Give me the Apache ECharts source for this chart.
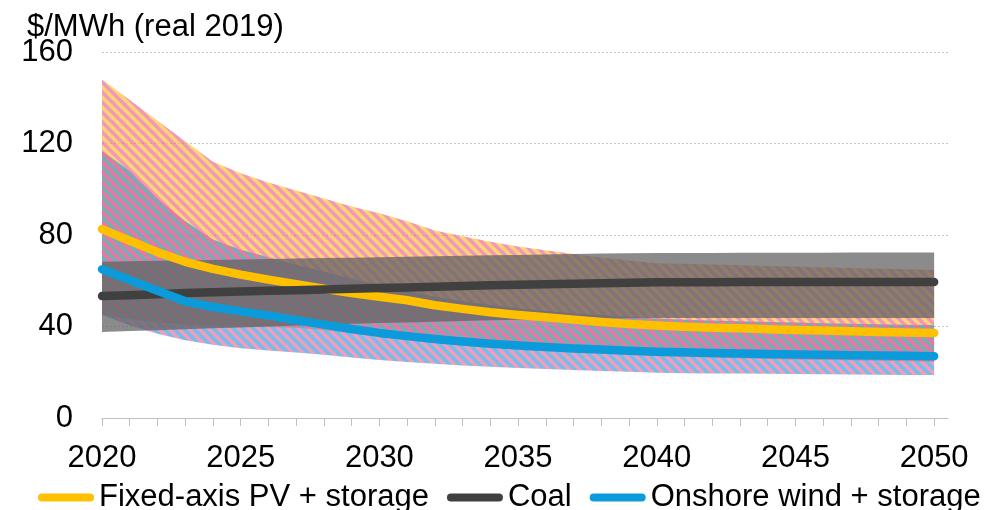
<!DOCTYPE html>
<html>
<head>
<meta charset="utf-8">
<script src="https://cdn.jsdelivr.net/npm/echarts@6/dist/echarts.min.js"></script>
<style>
html,body{margin:0;padding:0;background:#fff;}
#chart{width:1004px;height:510px;}
</style>
</head>
<body>
<div id="chart"></div>
<script>
const years = [2020,2021,2022,2023,2024,2025,2026,2027,2028,2029,2030,2031,2032,2033,2034,2035,2036,2037,2038,2039,2040,2041,2042,2043,2044,2045,2046,2047,2048,2049,2050];
const labelYears = [2020,2025,2030,2035,2040,2045,2050];
const yTicks = [0,40,80,120,160];

const pvLine   = [82.6,77.5,72.5,68.3,65.2,62.7,60.5,58.5,56.5,54.6,53,51.5,49.3,47.7,46.2,45,44,43,42,41.1,40.4,39.9,39.5,39.2,38.8,38.5,38.2,37.9,37.6,37.4,37.2];
const coalLine = [53.3,53.7,54.1,54.6,55,55.3,55.6,55.9,56.2,56.5,56.8,57.1,57.4,57.7,58,58.3,58.5,58.7,58.9,59.1,59.3,59.3,59.3,59.4,59.4,59.4,59.4,59.5,59.5,59.5,59.5];
const windLine = [65,60.3,55.6,51,48.5,46.6,44.8,42.8,40.8,38.9,37.2,35.8,34.5,33.4,32.5,31.7,31,30.4,29.9,29.4,29,28.7,28.4,28.2,28,27.8,27.6,27.4,27.3,27.2,27];

const pvHigh   = [148,139,130,121,112,107,103,99.5,96,92.5,89.5,86,82,79.5,77,75,73.3,71.7,70.2,68.8,67.7,67.4,67.1,66.8,66.5,66.2,65.9,65.6,65.3,65,64.7];
const pvLow    = [45,43.2,41.8,40.8,40.3,40,39.8,39.5,38.5,37,35.5,34.3,33.1,32,31,30.2,29.5,28.8,28.2,27.6,27.1,26.7,26.4,26.1,25.8,25.6,25.4,25.2,25,24.8,24.6];
const windHigh = [116.7,108,96,86,78,73.5,70.3,67,64,61,58,55.5,53,51,49.5,48,46.8,45.8,45,44.2,43.5,43,42.6,42.3,42,41.7,41.4,41.2,41,40.8,40.7];
const windLow  = [45,40.5,36.8,34,32,30.5,29.5,28.6,27.6,26.5,25.4,24.5,23.7,23,22.4,21.9,21.4,21,20.6,20.2,19.8,19.6,19.5,19.4,19.3,19.2,19.1,19,18.9,18.85,18.8];
const coalHigh = [68.3,68.5,68.7,68.9,69.1,69.3,69.5,69.7,69.9,70.1,70.3,70.5,70.7,70.9,71.1,71.3,71.5,71.7,71.9,72,72.1,72.1,72.1,72.2,72.2,72.2,72.2,72.3,72.3,72.3,72.3];
const coalLow  = [37.6,38,38.4,38.8,39.2,39.6,40,40.4,40.8,41.2,41.5,41.8,42.1,42.4,42.7,43,43.2,43.4,43.5,43.6,43.7,43.7,43.7,43.7,43.7,43.7,43.7,43.7,43.7,43.7,43.7];

const names = ['Fixed-axis PV + storage','Coal','Onshore wind + storage'];
const FONT = '"Liberation Sans", Arial, sans-serif';

function stripes(c1, c2, s) {
  const cv = document.createElement('canvas');
  cv.width = s; cv.height = s;
  const ctx = cv.getContext('2d');
  ctx.fillStyle = c1; ctx.fillRect(0,0,s,s);
  ctx.strokeStyle = c2;
  ctx.lineWidth = s / (2*Math.SQRT2);
  for (let k = -1; k <= 1; k++) {
    ctx.beginPath();
    ctx.moveTo(-2, -2 + k*s);
    ctx.lineTo(s+2, s+2 + k*s);
    ctx.stroke();
  }
  return cv;
}
const pvPat = stripes('rgb(255,190,40)', 'rgb(236,96,150)', 10);
const windPat = stripes('rgb(30,150,220)', 'rgb(236,96,150)', 10);

const pair = arr => arr.map((v,i)=>[years[i], v]);

function band(id, lo, hi, fill, opacity, z) {
  return {
    name: id, type:'custom', silent:true, z:z, clip:true,
    data: years.map((y,i)=>[y, lo[i], hi[i]]),
    encode:{x:0, y:[1,2]},
    renderItem: function(params, api) {
      if (params.dataIndex !== 0) return null;
      const top = [], bot = [];
      for (let i = 0; i < years.length; i++) {
        top.push(api.coord([years[i], hi[i]]));
        bot.push(api.coord([years[i], lo[i]]));
      }
      const pts = top.concat(bot.reverse());
      return { type:'polygon', shape:{points:pts}, style:{fill:fill, opacity:opacity} };
    }
  };
}

const chart = echarts.init(document.getElementById('chart'), null, {renderer:'canvas'});
chart.setOption({
  animation:false,
  textStyle:{fontFamily:FONT},
  grid:{left:102, right:56, top:52, bottom:92},
  graphic:[{type:'text', left:27, top:12,
    style:{text:'$/MWh (real 2019)', font:'31px "Liberation Sans", Arial, sans-serif', fill:'#000'}}],
  legend:{
    data:names, left:33, top:477, itemWidth:56, itemHeight:8, itemGap:18,
    icon:'path://M4,0 L52,0 A4,4 0 0 1 52,8 L4,8 A4,4 0 0 1 4,0 Z',
    textStyle:{fontSize:31, color:'#000', fontFamily:FONT}
  },
  xAxis:{
    type:'value', min:2020, max:2050.5, interval:1,
    axisLine:{show:true, lineStyle:{color:'#BFBFBF', width:1}},
    axisTick:{show:true, length:8, lineStyle:{color:'#BFBFBF'}, customValues: years},
    axisLabel:{customValues: labelYears, fontSize:31, color:'#000', margin:25, fontFamily:FONT,
      formatter: v => String(v)},
    splitLine:{show:false}
  },
  yAxis:{
    type:'value', min:0, max:160, interval:40,
    axisLine:{show:false}, axisTick:{show:false},
    axisLabel:{customValues: yTicks, fontSize:31, color:'#000', margin:29, fontFamily:FONT},
    splitLine:{show:true, lineStyle:{color:'#C8C8C8', type:[2,2], width:1}}
  },
  series:[
    band('pvBand', pvLow, pvHigh, {image:pvPat, repeat:'repeat'}, 0.65, 1),
    band('windBand', windLow, windHigh, {image:windPat, repeat:'repeat'}, 0.62, 2),
    band('coalBand', coalLow, coalHigh, 'rgb(100,100,100)', 0.75, 3),
    { name:names[0], type:'line', data:pair(pvLine), symbol:'none', z:5,
      itemStyle:{color:'#FFC000'}, lineStyle:{color:'#FFC000', width:8.5, cap:'round', join:'round'} },
    { name:names[1], type:'line', data:pair(coalLine), symbol:'none', z:6,
      itemStyle:{color:'#404040'}, lineStyle:{color:'#404040', width:8.5, cap:'round', join:'round'} },
    { name:names[2], type:'line', data:pair(windLine), symbol:'none', z:7,
      itemStyle:{color:'#0C9BDA'}, lineStyle:{color:'#0C9BDA', width:8.5, cap:'round', join:'round'} }
  ]
});
</script>
</body>
</html>
